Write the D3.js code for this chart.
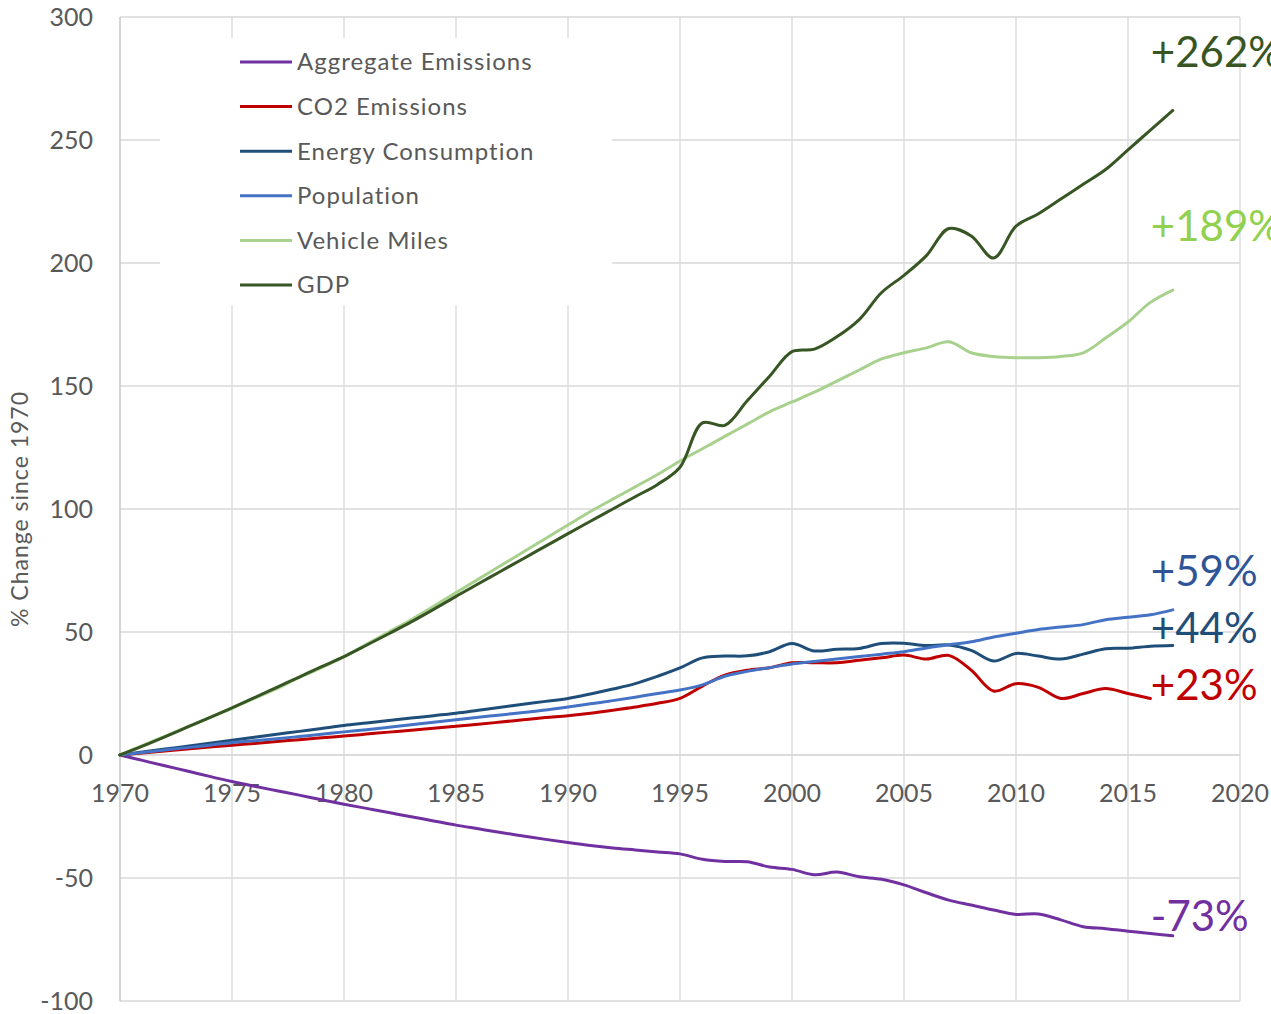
<!DOCTYPE html>
<html>
<head>
<meta charset="utf-8">
<script src="https://cdn.jsdelivr.net/npm/d3@7"></script>
<style>
  html, body { margin: 0; padding: 0; background: #ffffff; }
  svg { display: block; }
  text { font-family: Lato, "Noto Sans", sans-serif; }
</style>
</head>
<body>
<svg id="chart" width="1271" height="1014"></svg>
<script>
// ---------------- DATA ----------------
const years = d3.range(1970, 2018);
const xTicks = [1970, 1975, 1980, 1985, 1990, 1995, 2000, 2005, 2010, 2015, 2020];
const yTicks = [-100, -50, 0, 50, 100, 150, 200, 250, 300];

const seriesNames = ["Aggregate Emissions", "CO2 Emissions", "Energy Consumption", "Population", "Vehicle Miles", "GDP"];

const aggregateEmissions = [0, -2.2, -4.4, -6.5, -8.7, -10.8, -12.7, -14.5, -16.3, -18.2, -20,
  -21.7, -23.4, -25.1, -26.8, -28.5, -30, -31.5, -32.9, -34.3, -35.6,
  -36.8, -37.8, -38.6, -39.4, -40.2, -42.4, -43.3, -43.4, -45.5, -46.5,
  -48.7, -47.6, -49.5, -50.5, -52.8, -56, -59, -61, -63, -64.8,
  -64.6, -67, -69.8, -70.6, -71.6, -72.6, -73.5];

const co2Emissions = [0, 0.8, 1.6, 2.4, 3.2, 4, 4.7, 5.5, 6.2, 7, 7.7,
  8.5, 9.3, 10.1, 10.9, 11.7, 12.5, 13.4, 14.3, 15.2, 16,
  17, 18.2, 19.5, 21, 23, 28, 32.5, 34.5, 35.5, 37.5,
  37.5, 37.5, 38.5, 39.5, 40.6, 39, 40.5, 34.5, 26, 29,
  27.5, 23, 25, 27, 25, 23];

const energyConsumption = [0, 1.2, 2.4, 3.6, 4.8, 6, 7.2, 8.4, 9.6, 10.8, 12,
  13, 14, 15, 16, 17, 18.2, 19.4, 20.6, 21.8, 23,
  24.8, 26.8, 29, 32, 35.4, 39.5, 40.2, 40.3, 42, 45.3,
  42.3, 43, 43.3, 45.3, 45.4, 44.5, 44.7, 42.5, 38.2, 41.3,
  40.2, 39, 41, 43.2, 43.4, 44.2, 44.5];

const population = [0, 1, 2, 3, 4, 5, 5.8, 6.6, 7.5, 8.4, 9.4,
  10.3, 11.3, 12.3, 13.3, 14.3, 15.3, 16.3, 17.3, 18.3, 19.5,
  20.8, 22.1, 23.5, 25, 26.4, 28.5, 32, 34, 35.5, 37,
  38, 39, 40, 41, 42, 43.5, 44.8, 46, 48, 49.5,
  51, 52, 53, 55, 56, 57, 59];

const vehicleMiles = [0, 3.8, 7.6, 11.4, 15.2, 19, 23, 27, 31.5, 35.5, 40,
  45, 50, 55, 60.5, 66, 71.5, 77, 82.5, 88, 93.5,
  99, 104, 109, 114, 119.5, 124.5, 129.5, 134.5, 139.5, 143.5,
  147.5, 152, 156.5, 161, 163.5, 165.5, 168, 163.5, 162, 161.5,
  161.5, 162, 163.5, 169.5, 176, 184, 189];

const gdp = [0, 3.6, 7.4, 11.3, 15.2, 19.2, 23.3, 27.5, 31.7, 35.9, 40,
  44.6, 49.3, 54.1, 59.2, 64.5, 69.6, 74.7, 79.8, 84.9, 90,
  95, 100, 105, 110, 117, 135, 134, 144, 154, 164,
  165, 170, 177, 188, 195, 203, 214, 211, 202, 215,
  220, 226, 232, 238, 246, 254, 262];

const endLabels = ["+262%", "+189%", "+59%", "+44%", "+23%", "-73%"];

// ---------------- STYLE / LAYOUT ----------------
const seriesColors = ["#7030a0", "#c00000", "#1f4e79", "#4472c4", "#a9d18e", "#375623"];
const seriesData = [aggregateEmissions, co2Emissions, energyConsumption, population, vehicleMiles, gdp];
const labelColors = ["#375623", "#92d050", "#2f5597", "#1f4e79", "#c00000", "#7030a0"];
const labelBaselines = [67, 241, 586, 643, 700, 931];

const svg = d3.select("#chart");
const x = d3.scaleLinear().domain([1970, 2020]).range([120, 1240]);
const y = d3.scaleLinear().domain([-100, 300]).range([1001, 17]);

const gridColor = "#d9d9d9";
const textColor = "#595959";

// Gridlines
const grid = svg.append("g");
grid.selectAll("line.h").data(yTicks.filter(v => v !== 0)).join("line")
  .attr("x1", x(1970)).attr("x2", x(2020))
  .attr("y1", d => y(d)).attr("y2", d => y(d))
  .attr("stroke", gridColor).attr("stroke-width", 1.3);
grid.selectAll("line.v").data(xTicks.filter(v => v !== 1970)).join("line")
  .attr("x1", d => x(d)).attr("x2", d => x(d))
  .attr("y1", y(300)).attr("y2", y(-100))
  .attr("stroke", gridColor).attr("stroke-width", 1.3);

// Left value axis line and zero category axis line
svg.append("line").attr("x1", x(1970)).attr("x2", x(1970)).attr("y1", y(300)).attr("y2", y(-100))
  .attr("stroke", "#bfbfbf").attr("stroke-width", 1.3);
svg.append("line").attr("x1", x(1970)).attr("x2", x(2020)).attr("y1", y(0)).attr("y2", y(0))
  .attr("stroke", "#cfcfcf").attr("stroke-width", 1.5);

// Y tick labels
svg.append("g").selectAll("text").data(yTicks).join("text")
  .attr("x", 93).attr("y", d => y(d)).attr("dy", "0.35em")
  .attr("text-anchor", "end").attr("fill", textColor)
  .attr("font-size", 25).text(d => d);

// X tick labels
svg.append("g").selectAll("text").data(xTicks).join("text")
  .attr("x", d => x(d)).attr("y", 802)
  .attr("text-anchor", "middle").attr("fill", textColor)
  .attr("font-size", 25).text(d => d);

// Y axis title
svg.append("text")
  .attr("transform", "translate(28,509) rotate(-90)")
  .attr("text-anchor", "middle").attr("fill", textColor)
  .attr("font-size", 23).attr("letter-spacing", 1).text("% Change since 1970");

// Legend box (covers gridlines)
const legend = svg.append("g");
legend.append("rect").attr("x", 160).attr("y", 38).attr("width", 452).attr("height", 267).attr("fill", "#ffffff");
const legendRows = legend.selectAll("g").data(seriesNames).join("g")
  .attr("transform", (d, i) => `translate(0, ${62 + i * 44.6})`);
legendRows.append("line").attr("x1", 240).attr("x2", 292).attr("y1", 0).attr("y2", 0)
  .attr("stroke", (d, i) => seriesColors[i]).attr("stroke-width", 3);
legendRows.append("text").attr("x", 297).attr("y", 0).attr("dy", "0.35em")
  .attr("fill", textColor).attr("font-size", 24).attr("letter-spacing", 1).text(d => d);

// Lines
const line = d3.line()
  .x((d, i) => x(years[i]))
  .y(d => y(d))
  .curve(d3.curveCatmullRom.alpha(0.5));

svg.append("g").selectAll("path").data(seriesData).join("path")
  .attr("d", d => line(d))
  .attr("fill", "none")
  .attr("stroke", (d, i) => seriesColors[i])
  .attr("stroke-width", 3)
  .attr("stroke-linejoin", "round")
  .attr("stroke-linecap", "round");

// End labels
svg.append("g").selectAll("text").data(endLabels).join("text")
  .attr("x", x(2017) - 22)
  .attr("y", (d, i) => labelBaselines[i])
  .attr("fill", (d, i) => labelColors[i])
  .attr("font-size", 42)
  .text(d => d);
</script>
</body>
</html>
